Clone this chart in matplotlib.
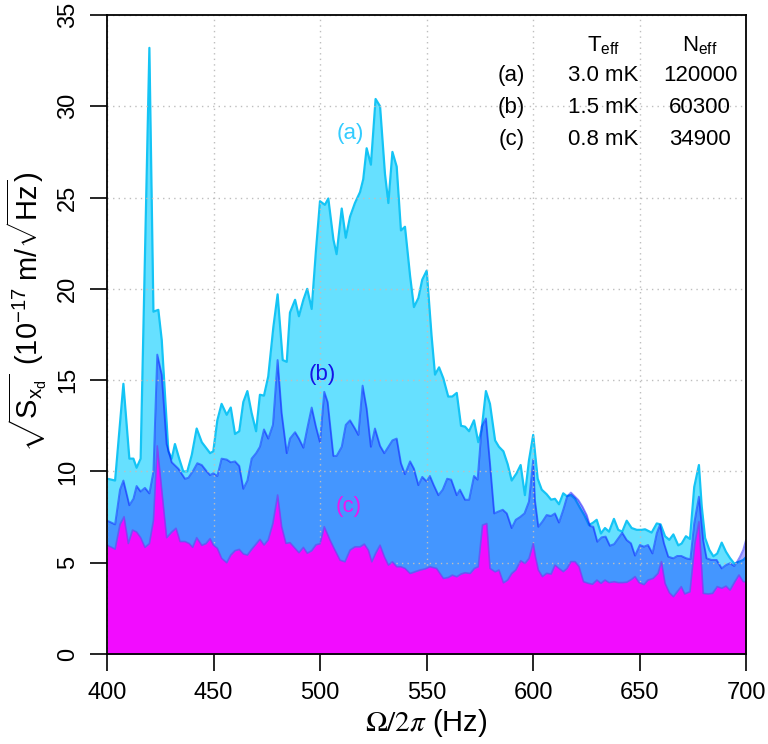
import matplotlib
matplotlib.use("Agg")
import matplotlib.pyplot as plt

plt.rcParams['font.family'] = ['Liberation Sans', 'DejaVu Sans']
plt.rcParams['mathtext.fontset'] = 'custom'
plt.rcParams['mathtext.rm'] = 'Liberation Sans'
plt.rcParams['mathtext.it'] = 'Liberation Sans'
plt.rcParams['mathtext.bf'] = 'Liberation Sans:bold'

# (a) T_eff = 3.0 mK
freq_a = [400.2, 403.8, 407.7, 410.5, 412.4, 413.9, 415.8, 419.9, 421.8, 424.1, 425.7, 428.8,
          430.4, 431.9, 433.9, 435.8, 437.7, 439.8, 442.1, 444.5, 448.4, 449.9, 451.8, 453.8,
          456.2, 458.1, 460.1, 462.1, 464.0, 465.9, 467.9, 470.0, 471.8, 473.7, 475.7, 478.1,
          480.1, 482.5, 484.4, 485.9, 488.3, 490.1, 492.2, 494.0, 496.1, 498.1, 500.0, 502.3,
          503.9, 506.3, 507.8, 510.2, 512.1, 514.1, 516.4, 518.8, 520.3, 521.9, 523.9, 526.1,
          528.2, 530.5, 532.1, 534.0, 536.0, 538.0, 539.9, 542.3, 544.1, 546.2, 548.0, 550.1,
          552.4, 554.0, 555.9, 557.9, 560.2, 562.1, 564.2, 566.2, 568.1, 570.0, 572.3, 574.3,
          575.9, 577.9, 579.8, 582.2, 584.0, 586.1, 588.1, 590.0, 592.3, 594.2, 596.2, 598.1,
          600.1, 602.2, 604.1, 606.4, 608.5, 610.3, 612.2, 614.2, 615.8, 617.8, 619.7, 622.1,
          624.1, 626.3, 628.3, 629.9, 631.9, 633.8, 635.7, 638.0, 640.0, 641.9, 644.0, 646.3,
          648.7, 651.0, 652.6, 655.7, 658.1, 659.9, 662.0, 664.0, 665.9, 668.2, 669.8, 671.8,
          673.7, 675.7, 677.9, 679.2, 680.8, 682.8, 684.7, 686.5, 688.6, 690.6, 692.5, 694.5,
          696.7, 698.7, 700.0]
amp_a = [9.6, 9.5, 14.8, 10.7, 10.7, 10.2, 10.7, 33.2, 18.75, 18.85, 17.2, 11.1,
         10.7, 11.5, 10.7, 10.0, 10.0, 10.9, 12.35, 11.6, 11.0, 11.1, 12.8, 13.7,
         13.1, 13.5, 12.05, 12.2, 13.8, 14.4, 13.2, 12.2, 14.2, 14.15, 15.2, 17.9,
         19.7, 16.1, 16.0, 18.7, 19.4, 18.5, 19.4, 20.0, 18.9, 22.1, 24.8, 24.6,
         24.95, 22.7, 21.9, 24.4, 22.8, 23.95, 24.7, 25.3, 26.0, 27.7, 26.8, 30.4,
         30.0, 26.3, 24.7, 27.5, 26.7, 23.2, 23.4, 20.7, 19.0, 19.5, 20.5, 21.0,
         17.4, 15.3, 15.7, 15.1, 14.1, 14.1, 14.3, 12.5, 12.45, 12.2, 12.8, 11.6,
         12.3, 14.4, 13.7, 11.7, 11.35, 11.1, 10.4, 9.5, 9.9, 10.35, 8.7, 10.6,
         12.0, 9.6, 9.0, 8.75, 8.45, 8.5, 8.2, 8.8, 8.65, 8.7, 8.5, 8.0,
         7.6, 7.06, 7.2, 7.35, 6.6, 6.9, 6.7, 7.4, 6.8, 6.7, 7.3, 6.9,
         6.8, 6.8, 6.83, 6.65, 7.15, 7.1, 6.45, 6.25, 6.55, 5.95, 6.05, 6.45,
         6.3, 9.15, 10.35, 8.1, 6.35, 5.7, 5.35, 5.5, 6.1, 5.6, 5.25, 4.95,
         5.05, 5.15, 5.3]

# (b) T_eff = 1.5 mK
freq_b = [400.2, 403.8, 406.1, 407.7, 410.5, 412.4, 413.9, 415.8, 417.8, 419.9, 421.8, 423.6,
          425.7, 428.0, 430.4, 433.5, 436.6, 438.2, 440.5, 442.4, 444.5, 446.5, 448.4, 449.9,
          451.8, 453.8, 456.2, 458.1, 460.1, 462.1, 464.0, 465.9, 467.9, 470.0, 471.8, 473.7,
          475.7, 477.9, 480.1, 482.0, 484.4, 485.9, 488.3, 490.1, 492.2, 494.0, 496.1, 498.1,
          500.0, 502.0, 503.6, 506.3, 507.8, 510.2, 512.1, 514.1, 516.4, 518.0, 520.0, 521.9,
          523.9, 525.8, 528.2, 530.2, 532.1, 534.0, 536.0, 538.0, 539.9, 542.3, 544.1, 546.2,
          548.0, 550.1, 551.6, 553.4, 555.6, 557.6, 559.7, 561.6, 564.2, 565.7, 568.1, 570.0,
          572.3, 574.0, 575.9, 577.9, 579.8, 581.8, 583.7, 585.8, 587.7, 590.0, 591.9, 593.9,
          596.0, 598.1, 600.1, 600.9, 602.5, 604.4, 606.4, 608.5, 610.3, 612.2, 614.2, 616.0,
          617.8, 619.7, 621.3, 623.2, 625.2, 626.8, 628.3, 630.2, 632.2, 634.1, 636.1, 638.1,
          640.0, 641.9, 644.0, 646.0, 647.9, 650.2, 652.1, 654.0, 656.1, 658.1, 659.6, 661.5,
          663.5, 665.9, 667.7, 669.6, 672.0, 673.9, 675.7, 677.9, 679.9, 681.5, 683.8, 686.2,
          688.6, 690.6, 692.5, 694.5, 695.6, 697.2, 698.7, 700.0]
amp_b = [7.3, 7.1, 9.0, 9.5, 8.15, 8.5, 9.2, 8.9, 9.1, 8.8, 10.0, 16.4,
         15.3, 11.5, 10.5, 10.15, 9.6, 9.65, 10.05, 10.45, 10.35, 10.05, 9.8, 9.9,
         9.75, 10.7, 10.65, 10.5, 10.55, 10.3, 9.05, 9.5, 10.7, 11.0, 11.35, 12.3,
         11.8, 12.55, 16.1, 13.2, 11.0, 11.8, 12.15, 11.8, 11.3, 12.35, 13.5, 12.45,
         11.6, 14.36, 13.8, 10.85, 10.85, 11.35, 12.55, 12.8, 12.35, 12.0, 14.7, 13.45,
         11.35, 12.35, 11.4, 11.0, 11.35, 11.7, 11.8, 10.45, 9.85, 10.55, 10.15, 9.25,
         9.7, 9.45, 9.75, 9.25, 8.7, 9.0, 9.6, 9.55, 8.7, 9.0, 8.45, 8.45,
         9.75, 9.55, 12.45, 12.9, 10.45, 7.7, 7.8, 7.9, 7.7, 6.9, 7.35, 7.5,
         7.7, 8.35, 10.65, 8.43, 6.97, 7.25, 7.61, 7.56, 7.7, 7.2, 7.9, 8.62,
         8.84, 8.62, 8.43, 8.07, 7.61, 7.01, 6.97, 6.15, 6.39, 6.43, 5.93, 6.02,
         6.33, 6.64, 6.24, 6.06, 5.39, 5.97, 5.88, 5.97, 5.51, 6.61, 7.07, 6.06,
         5.33, 5.24, 5.37, 5.37, 5.24, 5.19, 7.16, 8.62, 6.24, 5.24, 5.15, 5.15,
         4.69, 4.87, 4.97, 4.82, 5.0, 5.33, 5.7, 6.24]

# (c) T_eff = 0.8 mK
freq_c = [400.2, 402.2, 403.8, 406.1, 408.0, 410.0, 412.0, 413.9, 415.8, 417.8, 419.9, 421.8,
          423.6, 425.7, 428.0, 430.4, 432.4, 434.3, 436.6, 438.6, 440.2, 442.1, 444.5, 446.5,
          448.4, 449.9, 451.8, 453.8, 456.2, 458.1, 460.1, 462.1, 464.0, 465.9, 467.9, 470.0,
          471.8, 473.7, 475.7, 477.9, 480.1, 482.0, 484.0, 485.9, 488.3, 490.1, 492.2, 494.0,
          496.1, 498.1, 500.0, 502.0, 504.7, 507.0, 509.4, 511.7, 514.1, 516.4, 518.8, 520.8,
          522.7, 524.3, 526.1, 528.2, 530.2, 532.1, 534.0, 536.0, 538.0, 539.9, 542.3, 544.6,
          547.0, 549.3, 551.6, 554.7, 557.9, 560.2, 562.1, 564.2, 566.2, 568.1, 570.5, 572.5,
          574.3, 576.3, 578.3, 579.8, 582.2, 584.0, 586.1, 588.1, 590.0, 591.9, 594.2, 596.2,
          598.1, 600.1, 601.2, 602.5, 604.4, 606.4, 608.5, 610.3, 612.2, 614.2, 616.0, 617.8,
          619.7, 621.6, 623.7, 626.0, 627.9, 630.0, 631.9, 633.8, 635.7, 638.1, 640.0, 641.9,
          644.0, 646.3, 647.9, 649.8, 652.1, 654.0, 656.4, 658.7, 660.3, 662.0, 664.0, 665.9,
          667.7, 669.6, 671.2, 673.7, 676.0, 677.9, 679.9, 682.2, 684.3, 686.5, 688.6, 690.6,
          692.5, 694.5, 696.7, 698.7, 700.0]
amp_c = [5.95, 5.84, 5.74, 7.1, 7.52, 6.05, 6.79, 6.68, 6.37, 5.84, 6.05, 7.31,
         11.4, 9.0, 6.37, 6.68, 6.89, 6.16, 6.16, 6.05, 5.84, 6.37, 5.95, 6.05,
         6.32, 5.97, 5.79, 5.24, 5.0, 5.42, 5.66, 5.73, 5.48, 5.42, 5.73, 6.03,
         6.28, 5.97, 6.25, 7.16, 8.71, 6.97, 6.06, 6.1, 5.79, 5.55, 5.84, 5.52,
         5.66, 5.98, 6.04, 6.97, 6.24, 5.69, 5.14, 5.05, 5.69, 5.87, 5.87, 6.02,
         5.69, 5.05, 5.51, 5.96, 5.33, 4.87, 5.05, 4.78, 4.78, 4.69, 4.41, 4.5,
         4.6, 4.66, 4.78, 4.69, 4.14, 4.19, 4.32, 4.23, 4.38, 4.45, 4.41, 4.69,
         4.78, 7.06, 7.15, 4.69, 4.5, 4.6, 3.9, 4.05, 4.41, 4.6, 5.11, 4.96,
         5.23, 6.06, 5.3, 4.6, 4.24, 4.42, 4.38, 4.87, 4.69, 4.51, 4.69, 5.06,
         5.06, 4.78, 3.96, 3.87, 3.82, 4.05, 3.87, 4.05, 3.91, 3.96, 3.91, 3.91,
         3.93, 4.09, 4.24, 3.91, 3.8, 4.05, 4.14, 4.42, 5.06, 3.87, 3.36, 3.14,
         3.41, 3.69, 3.29, 3.41, 6.06, 7.25, 3.32, 3.29, 3.32, 3.69, 3.6, 3.72,
         3.5, 3.91, 4.33, 3.96, 3.96]

labels = ['(a)', '(b)', '(c)']
t_eff = ['3.0 mK', '1.5 mK', '0.8 mK']
n_eff = ['120000', '60300', '34900']

fig = plt.figure(figsize=(7.68, 7.44), dpi=100)
ax = fig.add_axes([107 / 768, 1 - 654 / 744, 639 / 768, 639 / 744])

# (a) light cyan
ax.fill_between(freq_a, 0, amp_a, color='#66E0FF', lw=0, zorder=1)
ax.plot(freq_a, amp_a, color='#14C4F5', lw=1.6, zorder=1.5)
# (b) transparent blue
ax.fill_between(freq_b, 0, amp_b, color=(0, 0, 1, 0.33), lw=0, zorder=2)
ax.plot(freq_b, amp_b, color=(0, 0, 1, 0.45), lw=1.4, zorder=2.5)

ax.set_xlim(400, 700)
ax.set_ylim(0, 35)
ax.set_xticks(range(400, 701, 50))
ax.set_yticks(range(0, 36, 5))
ax.grid(True, color='#BEBEBE', linestyle=(0, (1, 3)), lw=1)
ax.set_axisbelow(False)
for gl in ax.get_xgridlines() + ax.get_ygridlines():
    gl.set_zorder(3)

# (c) magenta on top
ax.fill_between(freq_c, 0, amp_c, color='#F20CFF', lw=0, zorder=4)
ax.plot(freq_c, amp_c, color='#6E46F0', alpha=0.7, lw=1.2, zorder=4.5)

for sp in ax.spines.values():
    sp.set_linewidth(1.3)
    sp.set_zorder(6)
ax.tick_params(direction='out', length=12, width=1.2, labelsize=17, pad=8)
for lab in ax.get_yticklabels():
    lab.set_rotation(90)
    lab.set_va('center')

ax.set_xlabel(r'$\Omega/2\pi$ (Hz)', fontsize=21, math_fontfamily='stix', labelpad=2)
ax.set_ylabel(r'$\sqrt{S_{x_\mathrm{d}}}\;\,(10^{-17}\;\mathrm{m}/\sqrt{\mathrm{Hz}})$',
              fontsize=21)
ax.yaxis.set_label_coords(-0.09, 0.535)

# curve labels
ax.text(514, 28.5, '(a)', color='#33CCFF', fontsize=16, ha='center', va='center', zorder=7)
ax.text(501, 15.3, '(b)', color='#1414E6', fontsize=16, ha='center', va='center', zorder=7)
ax.text(513.5, 8.1, '(c)', color='#F014F0', fontsize=16, ha='center', va='center', zorder=7)

# parameter table
ax.text(633, 33.3, r'T$_\mathrm{eff}$', fontsize=16, ha='center', va='center', zorder=7)
ax.text(678.5, 33.3, r'N$_\mathrm{eff}$', fontsize=16, ha='center', va='center', zorder=7)
for i, (lab, t, n) in enumerate(zip(labels, t_eff, n_eff)):
    yy = 31.7 - 1.75 * i
    ax.text(590, yy, lab, fontsize=16, ha='center', va='center', zorder=7)
    ax.text(633, yy, t, fontsize=16, ha='center', va='center', zorder=7)
    ax.text(678.5, yy, n, fontsize=16, ha='center', va='center', zorder=7)

fig.savefig('out.png', dpi=100)
